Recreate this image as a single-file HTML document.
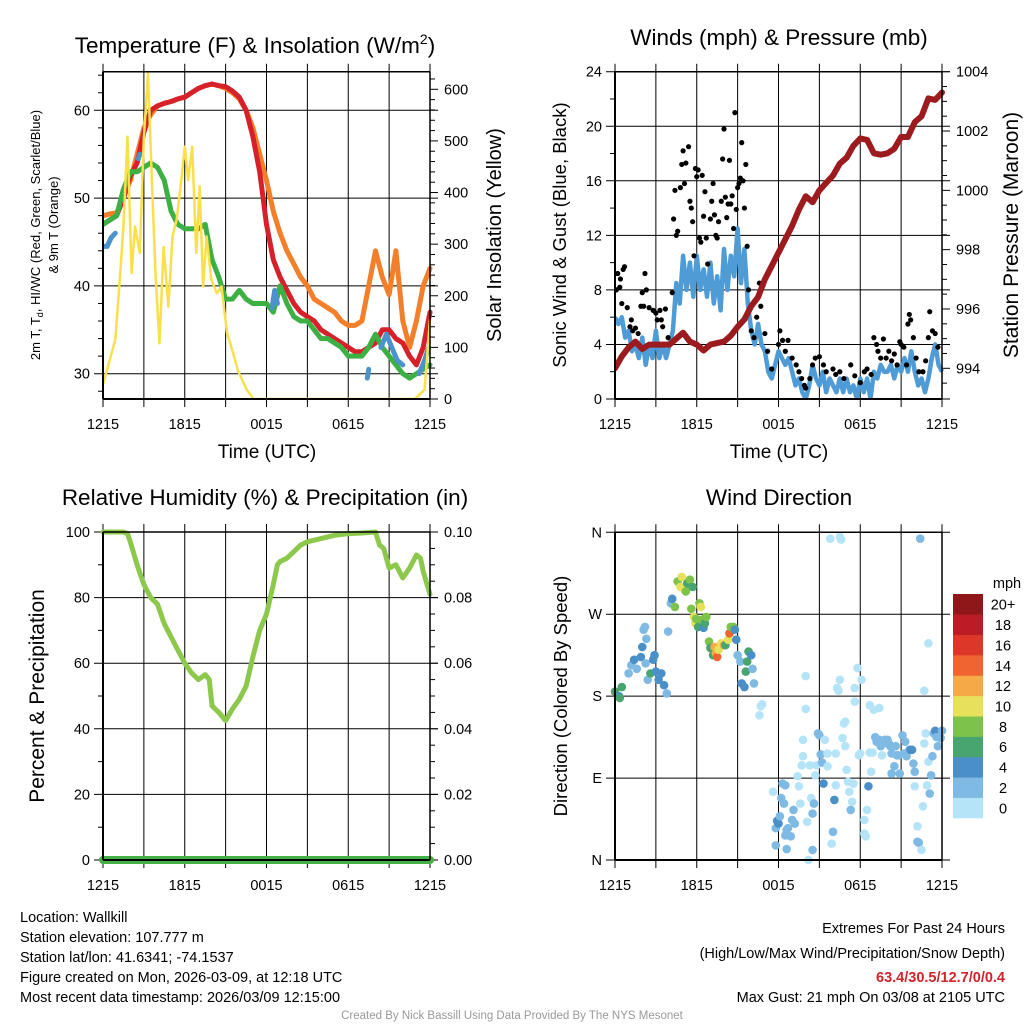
<!DOCTYPE html>
<html><head><meta charset="utf-8">
<style>
html,body{margin:0;padding:0;background:#fff;}
svg{display:block;font-family:"Liberation Sans",sans-serif;}
</style></head>
<body>
<svg id="fig" width="1024" height="1024" viewBox="0 0 1024 1024" xmlns="http://www.w3.org/2000/svg">
<rect width="1024" height="1024" fill="#fff"/>
<g id="g1"></g>
<g id="g2"></g>
<g id="g3"></g>
<g id="g4"></g>
<g font-size="14.5" fill="#000">
<text x="20" y="922">Location: Wallkill</text>
<text x="20" y="942">Station elevation: 107.777 m</text>
<text x="20" y="962">Station lat/lon: 41.6341; -74.1537</text>
<text x="20" y="982">Figure created on Mon, 2026-03-09, at 12:18 UTC</text>
<text x="20" y="1002">Most recent data timestamp: 2026/03/09 12:15:00</text>
</g>
<g font-size="14.5" text-anchor="end">
<text x="1005" y="933">Extremes For Past 24 Hours</text>
<text x="1005" y="958">(High/Low/Max Wind/Precipitation/Snow Depth)</text>
<text x="1005" y="982" fill="#d3232a" font-weight="bold">63.4/30.5/12.7/0/0.4</text>
<text x="1005" y="1002">Max Gust: 21 mph On 03/08 at 2105 UTC</text>
</g>
<text x="512" y="1019" text-anchor="middle" font-size="11.5" fill="#999">Created By Nick Bassill Using Data Provided By The NYS Mesonet</text>
</svg>
<script>
// ---------- data ----------
const timeTicks = ["1215","1815","0015","0615","1215"];
// Temperature panel (hours since 1215 UTC)
const tHours = [0,0.5,1,1.5,2,2.5,3,3.5,4,4.5,5,5.5,6,6.5,7,7.5,8,8.5,9,9.5,10,10.5,11,11.5,12,12.5,13,13.5,14,14.5,15,15.5,16,16.5,17,17.5,18,18.5,19,19.5,20,20.5,21,21.5,22,22.5,23,23.5,24];
const temp2m = [47,47.5,48,50,52.5,54,57.5,60,60.5,60.8,61,61.3,61.5,62,62.5,62.8,63,62.8,62.7,62.2,61.5,60,57,53,47,43,41,39.5,38,37,36.5,36,35,34.5,34,33.5,33,32.5,32.5,33,33.5,35,35,34,33.5,32,31,33,37];
const temp9m = [48,48.2,48.3,50,52,55,58,59.5,60.5,60.8,61,61.3,61.5,62,62.5,62.8,63,62.8,62.5,62,61.3,60,58,55,52,48.5,46,44,42.5,41,40,38.5,38,37.5,37,36,35.5,35.5,36,40,44,41,39,44,36,33,36,40,42];
const dewpt = [47,47.5,48,51,53,53,53.5,54,53.5,52,48.5,47,46.5,46.5,46.5,47,43,41,38.5,38.5,39.5,38.5,38,38,38,37,40,38,36.5,36,36,35,34,34,33.5,33,32,32,32,33,34.5,33,32,31,30,29.5,30,30.5,31];
const hiwcHours = [0,0.3,0.6,0.9,null,2.6,2.7,null,12.4,12.6,12.8,null,19.4,19.5,null,20.4,20.8,21.2,21.6,22,null,23.2,23.6,23.9];
const hiwcVals  = [44.5,44.5,45.5,46,null,54.5,55,null,37.5,39.5,38,null,29.5,30.5,null,33,34.5,33,31.5,31,null,30,31.5,33];
const solarHours = [0,0.5,0.9,1.2,1.5,1.8,2.1,2.35,2.7,3.0,3.3,3.6,3.85,4.15,4.45,4.8,5.1,5.4,5.75,6.0,6.25,6.55,6.85,7.1,7.35,7.6,7.95,8.35,8.7,9.1,9.55,9.9,10.55,11.05,22.9,23.6,24];
const solarVals  = [28,76,115,218,334,508,244,334,283,508,631,412,244,108,295,179,315,347,424,489,424,489,283,412,218,315,231,205,218,128,89,55,18,0,0,18,154];
// Wind panel
const windHours = [0,0.25,0.5,0.75,1,1.25,1.5,1.75,2,2.25,2.5,2.75,3,3.25,3.5,3.75,4,4.25,4.5,4.75,5,5.25,5.5,5.75,6,6.25,6.5,6.75,7,7.25,7.5,7.75,8,8.25,8.5,8.75,9,9.25,9.5,9.75,10,10.25,10.5,10.75,11,11.25,11.5,11.75,12,12.25,12.5,12.75,13,13.25,13.5,13.75,14,14.25,14.5,14.75,15,15.25,15.5,15.75,16,16.25,16.5,16.75,17,17.25,17.5,17.75,18,18.25,18.5,18.75,19,19.25,19.5,19.75,20,20.25,20.5,20.75,21,21.25,21.5,21.75,22,22.25,22.5,22.75,23,23.25,23.5,23.75,24];
const windSpd = [6,5.5,6,4.5,5,3.5,4,3,4.5,2.5,4,3,5,3,4,3,4,5,8.5,7,10.5,8,10,7.5,10.5,8,9.5,7.5,10,7,9,6.5,11,8,10.5,9,12.5,8.5,11,7,5,4,5.5,4,3.5,2,1.5,2.5,3.5,3,2.5,3,2,1,1.5,0.5,0,1,2.5,1.5,1,2,0.5,1.5,1,0.5,1.5,0.5,1.5,0.5,1,0,1.5,0.5,1.5,0,2,1.5,2.5,2,2,2.5,1.5,2.5,2,3,2,3.5,2,1,1.5,0.5,1.5,3,4,2.5,2];
const pHours = [0,0.5,1,1.5,2,2.5,3,3.5,4,4.5,5,5.5,6,6.5,7,7.5,8,8.5,9,9.5,10,10.5,11,11.5,12,12.5,13,13.5,14,14.5,15,15.5,16,16.5,17,17.5,18,18.5,19,19.5,20,20.5,21,21.5,22,22.5,23,23.5,24];
const pressure = [994.0,994.4,994.7,994.9,994.65,994.8,994.8,994.8,994.8,995.0,995.2,994.9,994.8,994.6,994.8,994.85,994.9,995.1,995.4,995.65,996.1,996.4,997.0,997.45,997.9,998.35,998.8,999.35,999.8,999.6,1000.0,1000.25,1000.5,1000.9,1001.1,1001.5,1001.75,1001.7,1001.25,1001.2,1001.25,1001.4,1001.8,1001.8,1002.3,1002.5,1003.1,1003.05,1003.3];
const gustHours = [0,0.1,0.2,0.35,0.4,0.5,0.6,0.7,0.9,1.1,1.2,1.3,1.5,1.7,1.9,2.0,2.1,2.2,2.3,2.5,2.8,3.0,3.1,3.3,3.4,3.5,3.7,3.9,4.2,4.3,4.4,4.5,4.6,4.8,4.9,5.0,5.1,5.2,5.4,5.5,5.6,5.7,5.8,5.9,6.0,6.1,6.2,6.3,6.4,6.5,6.6,6.7,6.8,7.0,7.1,7.2,7.3,7.4,7.5,7.6,7.8,7.9,8.0,8.1,8.2,8.3,8.4,8.5,8.6,8.7,8.8,8.9,9.0,9.1,9.2,9.3,9.4,9.5,9.6,9.7,9.8,10.0,10.2,10.4,10.6,10.7,11.0,11.2,11.5,12.0,12.1,12.3,12.5,12.7,13.0,13.3,13.5,13.7,13.9,14.0,14.3,14.5,14.7,15.0,15.3,15.5,16.0,16.2,16.5,16.8,17.3,17.6,18.0,18.3,18.5,18.8,19.0,19.2,19.3,19.5,19.7,19.9,20.1,20.3,20.5,20.7,20.9,21.0,21.2,21.4,21.5,21.6,21.7,21.9,22.1,22.3,22.6,22.8,23.0,23.1,23.3,23.5,23.7];
const gustVals  = [9.2,8,9.2,8.2,8.8,7,9.5,9.7,6.7,5.3,5.8,5,5.2,4.8,6.8,7.8,6.8,9.2,8,6.7,6.5,6.3,5.8,6.5,5.8,5.3,6.6,4.5,7.8,13.2,15.3,12,12.3,15.5,17.2,18.2,15.8,17.3,18.5,14.5,14,13,10.5,16.9,16.3,16.8,11.8,11.5,16.4,13.4,15.2,11.8,9.9,13.2,14.5,15.8,13.5,12,11.8,13,14.5,17.6,19.8,14.8,13.3,14.3,17.5,14.3,14.9,12.5,21,13.9,15.5,15.8,16.2,18.8,16,14,17.2,11.2,8,5,4.5,6,8.5,6.8,4.8,3.5,2.2,4,5,4.3,3.5,4.3,3,2.5,2,1.5,1,0.8,1.5,2.5,3,3.1,2.5,2,2.2,1.8,2,1.5,2.5,1.7,1.2,2,2.2,1.8,4.5,4,3.5,3,4.4,3,3.5,2.8,3.3,2.5,4.2,4,3.8,2.5,5.5,6.2,5.8,4.5,3,2,2,2.8,4.5,6.4,5,4.8,3.8];
// RH panel
const rhHours = [0,0.5,1,1.5,1.8,2,2.5,3,3.5,4,4.5,5,5.5,6,6.5,7,7.5,7.8,8,8.5,9,9.5,10,10.5,11,11.5,12,12.5,12.8,13,13.5,14,14.5,15,16,17,18,19,20,20.3,20.6,21,21.5,22,22.5,23,23.3,23.5,24];
const rhVals  = [100,100,100,100,99.5,97,90,84,80,78,72,68,64,60,57,55,56.5,55,47,45,42.5,46,49,53,62,70,75,84,90,91,92,94,96,97,98,99,99.5,99.7,100,96,95,89,90,86,89,93,92,88,81];
const precipHours = [0,24];
const precipVals = [0,0];
// Wind direction panel
const dirHours = [0,0.3,0.5,0.35,1,1.2,1.4,1.6,1.9,2.0,2.1,2.2,2.3,2.25,2.4,2.6,2.8,2.9,3.0,3.2,3.4,3.6,3.8,3.9,4.1,4.2,4.4,4.6,4.8,4.9,5.1,5.2,5.3,5.5,5.7,5.6,5.8,5.9,5.95,6.1,6.2,6.3,6.4,6.5,6.6,6.7,6.9,7.0,7.2,7.3,7.4,7.5,7.6,7.8,8.0,8.1,8.3,8.4,8.5,8.7,8.8,8.9,9.0,9.2,9.3,9.5,9.6,9.7,9.8,10.0,10.1,10.2,10.6,10.7,10.8,11.6,11.8,11.8,11.9,12.0,12.1,12.2,12.3,12.4,12.5,12.5,12.6,12.7,12.9,12.6,13.0,13.1,13.2,13.4,13.5,13.6,13.7,13.8,13.8,14.0,14.0,14.1,14.2,14.3,14.4,14.5,14.5,14.6,14.7,14.8,14.9,15.0,15.1,15.2,15.3,15.4,15.6,15.6,15.8,15.9,16.0,16.1,16.2,16.2,16.3,16.4,16.5,16.5,16.6,16.7,16.8,16.9,16.9,17.0,17.1,17.2,17.3,17.4,17.5,17.6,17.6,17.8,17.9,18.0,18.1,18.3,18.3,18.4,18.5,18.6,18.7,18.7,18.8,18.9,19.0,19.1,19.2,19.4,19.4,19.5,19.6,19.7,19.8,20.0,20.1,20.2,20.3,20.3,20.5,20.6,20.7,20.8,20.9,21.1,21.2,21.3,21.4,21.6,21.7,21.8,21.9,22.0,22.0,22.2,22.2,22.3,22.4,22.5,22.6,22.7,22.7,22.8,22.9,23.0,23.0,23.1,23.2,23.3,23.4,23.5,23.6,23.7,23.9,24.0];
const dirDeg = [185,180,190,178,205,214,220,210,223,234,253,256,243,216,198,205,220,225,207,198,205,192,183,251,282,287,278,306,300,311,297,295,304,308,300,276,267,260,265,256,282,278,264,255,260,267,240,233,225,234,227,223,231,238,236,236,242,249,256,256,253,242,225,218,194,190,207,218,229,225,210,194,159,169,171,75,35,16,43,40,48,68,84,62,82,27,33,35,26,12,44,55,40,92,81,62,104,114,132,166,202,42,0,104,68,11,51,62,93,104,139,137,116,107,84,132,117,103,353,18,31,66,82,117,189,186,198,355,352,134,150,152,125,99,86,75,55,64,84,174,189,211,115,117,198,44,29,26,55,81,118,170,97,118,165,135,130,132,167,125,115,128,132,132,128,125,95,117,103,125,115,115,95,137,117,130,114,121,121,121,106,97,81,37,20,19,353,11,59,128,186,139,82,238,108,73,93,114,139,142,135,125,134,142];
const dirSpd = [6,4,6,6,3,3,4,3,4,5,3,3,3,3,3,6,5,5,4,5,5,4,3,3,3,5,8,8,10,10,10,8,6,8,6,8,10,10,8,6,8,10,8,4,6,8,8,6,6,12,12,14,10,10,12,6,10,14,8,8,4,4,3,3,4,4,6,6,6,4,3,3,1,1,1,1,3,3,4,4,3,3,3,3,3,3,3,3,3,3,3,3,3,1,1,1,1,1,1,1,1,1,1,1,1,3,3,3,1,1,3,3,3,3,4,1,1,1,1,1,3,4,1,1,1,1,1,1,1,1,1,1,1,1,1,1,3,1,1,1,1,1,1,1,1,1,1,1,1,4,1,1,1,1,1,2,2,2,1,2,1,2,2,2,2,2,3,3,3,3,2,2,2,2,2,3,2,3,4,4,3,3,1,1,3,3,3,1,1,1,1,1,1,1,1,3,3,3,2,4,3,3,3,2];
const speedBinLabels = ["0","2","4","6","8","10","12","14","16","18","20+"];
const speedBinColors = ["#b5e3f8","#7fbae4","#4a8fc7","#48a56f","#7dc24b","#e6e05a","#f6a947","#ef6430","#dc3729","#bb1c25","#8f1719"];

// ---------- helpers ----------
const NS="http://www.w3.org/2000/svg";
function mk(parent,tag,attrs){const e=document.createElementNS(NS,tag);for(const k in attrs)e.setAttribute(k,attrs[k]);parent.appendChild(e);return e;}
function txt(parent,s,attrs){const e=mk(parent,"text",attrs);e.textContent=s;return e;}
function lin(d0,d1,p0,p1){return v=>p0+(v-d0)/(d1-d0)*(p1-p0);}
function pathFrom(xs,ys,fx,fy){let d="",pen=false;for(let i=0;i<xs.length;i++){if(xs[i]===null||ys[i]===null){pen=false;continue;}d+=(pen?"L":"M")+fx(xs[i]).toFixed(1)+","+fy(ys[i]).toFixed(1);pen=true;}return d;}

function frame(g,L,R,T,B,fx){
  for(let h=0;h<=24;h+=3){
    const l=mk(g,"line",{x1:fx(h),x2:fx(h),y1:T-8,y2:B+8,stroke:"#000","stroke-width":1});
    
    
  }
  timeTicks.forEach((s,i)=>{
    const t=txt(g,s,{x:fx(i*6),y:B+30,"font-size":14.5,"text-anchor":"middle"});
    
    
  });
}
function hgrid(g,L,R,y,label){
  const l=mk(g,"line",{x1:L-9,x2:R+8,y1:y,y2:y,stroke:"#000","stroke-width":1});
  
  
  if(label!==null){const t=txt(g,label,{x:L-13,y:y+5,"font-size":14.5,"text-anchor":"end"});
    
    }
}
function rtick(g,R,y,label,major){
  const l=mk(g,"line",{x1:R,x2:R+(major?8:5),y1:y,y2:y,stroke:"#000","stroke-width":1});
  
  
  if(label!==null){const t=txt(g,label,{x:R+14,y:y+5,"font-size":14.5});
    
    }
}
function box(g,L,R,T,B){
  mk(g,"line",{x1:L,x2:R,y1:T,y2:T,stroke:"#000","stroke-width":1.5});
  mk(g,"line",{x1:L,x2:R,y1:B,y2:B,stroke:"#000","stroke-width":2});
  mk(g,"line",{x1:L,x2:L,y1:T,y2:B,stroke:"#000","stroke-width":2});
  mk(g,"line",{x1:R,x2:R,y1:T,y2:B,stroke:"#000","stroke-width":1.5});
}
function title(g,s,x,y,size,rot){
  const a={x:x,y:y,"font-size":size,"text-anchor":"middle"};
  if(rot)a.transform="rotate(-90 "+x+" "+y+")";
  return txt(g,s,a);
}

// ---------- Panel 1: temperature ----------
(function(){
  const g=document.getElementById("g1");
  const L=103,R=430,T=71.7,B=399;
  const fx=lin(0,24,L,R), fy=lin(30,60,373.7,110.3), fs=lin(0,600,B,89.3);
  const tt=title(g,"Temperature (F) & Insolation (W/m",255,53,22.5,false);
  const sup=mk(tt,"tspan",{"font-size":14,dy:-9});sup.textContent="2";
  const cl=mk(tt,"tspan",{dy:9});cl.textContent=")";
  
  
  frame(g,L,R,T,B,fx);
  [30,40,50,60].forEach(v=>hgrid(g,L,R,fy(v),String(v)));
  for(let w=0;w<=620;w+=20){rtick(g,R,fs(w),w%100===0?String(w):null,w%100===0);}
  for(let v=28;v<=64;v+=2){if(v%10)mk(g,"line",{x1:L-5,x2:L,y1:fy(v),y2:fy(v),stroke:"#000"});}
  const clip=mk(g,"clipPath",{id:"c1"});mk(clip,"rect",{x:L,y:T-2,width:R-L+4,height:B-T+2});
  const pg=mk(g,"g",{"clip-path":"url(#c1)"});
  const p9=mk(pg,"path",{d:pathFrom(tHours,temp9m,fx,fy),fill:"none",stroke:"#f47f2a","stroke-width":5,"stroke-linejoin":"round","stroke-linecap":"round"});
  
  
  const p2=mk(pg,"path",{d:pathFrom(tHours,temp2m,fx,fy),fill:"none",stroke:"#d7212a","stroke-width":5,"stroke-linejoin":"round","stroke-linecap":"round"});
  
  
  const pd=mk(pg,"path",{d:pathFrom(tHours,dewpt,fx,fy),fill:"none",stroke:"#3db044","stroke-width":5,"stroke-linejoin":"round","stroke-linecap":"round"});
  
  
  const ph=mk(pg,"path",{d:pathFrom(hiwcHours,hiwcVals,fx,fy),fill:"none",stroke:"#4b93cc","stroke-width":5,"stroke-linejoin":"round","stroke-linecap":"round"});
  
  
  const ps=mk(pg,"path",{d:pathFrom(solarHours,solarVals,fx,fs),fill:"none",stroke:"#f9e04b","stroke-width":2.5,"stroke-linejoin":"round"});
  
  
  box(g,L,R,T,B);
  const xt=title(g,"Time (UTC)",267,458,19);
  
  
  const y1=title(g,"2m T, T",40,235,13,true);
  const sb=mk(y1,"tspan",{"font-size":9,dy:3});sb.textContent="d";
  const r1=mk(y1,"tspan",{dy:-3});r1.textContent=", HI/WC (Red, Green, Scarlet/Blue)";
  
  
  const y2=title(g,"& 9m T (Orange)",58,225,13,true);
  
  
  const yr=title(g,"Solar Insolation (Yellow)",501,235,20,true);
  
  
})();

// ---------- Panel 2: wind & pressure ----------
(function(){
  const g=document.getElementById("g2");
  const L=615,R=942,T=71.7,B=399;
  const fx=lin(0,24,L,R), fy=lin(0,24,B,T), fp=lin(994,1004,368.3,71.7);
  const tt=title(g,"Winds (mph) & Pressure (mb)",779,45,22.5);
  
  
  frame(g,L,R,T,B,fx);
  [0,4,8,12,16,20,24].forEach(v=>hgrid(g,L,R,fy(v),String(v)));
  for(let v=2;v<24;v+=4)mk(g,"line",{x1:L-5,x2:L,y1:fy(v),y2:fy(v),stroke:"#000"});
  for(let p=993;p<=1004;p+=0.5){if(p>=993.05)rtick(g,R,fp(p),(p%2===0)?String(p):null,p%2===0);}
  const clip=mk(g,"clipPath",{id:"c2"});mk(clip,"rect",{x:L,y:T-4,width:R-L+6,height:B-T+4});
  const pg=mk(g,"g",{"clip-path":"url(#c2)"});
  const pw=mk(pg,"path",{d:pathFrom(windHours,windSpd,fx,fy),fill:"none",stroke:"#4f9bd6","stroke-width":4.5,"stroke-linejoin":"round"});
  
  
  gustHours.forEach((h,i)=>{
    const c=mk(pg,"circle",{cx:fx(h),cy:fy(gustVals[i]),r:2.6,fill:"#000"});
    
    
  });
  const pp=mk(pg,"path",{d:pathFrom(pHours,pressure,fx,fp),fill:"none",stroke:"#9b1b1e","stroke-width":6,"stroke-linejoin":"round","stroke-linecap":"round"});
  
  
  box(g,L,R,T,B);
  const xt=title(g,"Time (UTC)",779,458,19);
  
  
  const yl=title(g,"Sonic Wind & Gust (Blue, Black)",566,235,18.5,true);
  
  
  const yr=title(g,"Station Pressure (Maroon)",1018,235,21,true);
  
  
})();

// ---------- Panel 3: RH & precip ----------
(function(){
  const g=document.getElementById("g3");
  const L=103,R=430,T=532,B=860;
  const fx=lin(0,24,L,R), fy=lin(0,100,B,T), fr=lin(0,0.1,B,T);
  const tt=title(g,"Relative Humidity (%) & Precipitation (in)",265,505,22.5);
  
  
  frame(g,L,R,T,B,fx);
  [0,20,40,60,80,100].forEach(v=>hgrid(g,L,R,fy(v),String(v)));
  for(let v=10;v<100;v+=20)mk(g,"line",{x1:L-5,x2:L,y1:fy(v),y2:fy(v),stroke:"#000"});
  for(let k=0;k<=20;k++){const p=k*0.005;rtick(g,R,fr(p),k%4===0?p.toFixed(2):null,k%4===0);}
  const pr=mk(g,"path",{d:pathFrom(rhHours,rhVals,fx,fy),fill:"none",stroke:"#8cc84b","stroke-width":5,"stroke-linejoin":"round","stroke-linecap":"round"});
  
  
  const pp=mk(g,"path",{d:pathFrom(precipHours,precipVals,fx,fr),fill:"none",stroke:"#45b045","stroke-width":8,"stroke-linecap":"round"});
  
  
  box(g,L,R,T,B);
  const yl=title(g,"Percent & Precipitation",44,696,21,true);
  
  
})();

// ---------- Panel 4: wind direction ----------
(function(){
  const g=document.getElementById("g4");
  const L=615,R=942,T=532.3,B=860;
  const fx=lin(0,24,L,R), fy=lin(0,360,B,T);
  const tt=title(g,"Wind Direction",779,505,22.5);
  
  
  frame(g,L,R,T,B,fx);
  ["N","E","S","W","N"].forEach((s,i)=>hgrid(g,L,R,fy(i*90),s));
  dirHours.forEach((h,i)=>{
    const bin=Math.min(10,Math.floor(dirSpd[i]/2));
    const c=mk(g,"circle",{cx:fx(h),cy:fy(dirDeg[i]),r:4.3,fill:speedBinColors[bin]});
    
    
  });
  box(g,L,R,T,B);
  const yl=title(g,"Direction (Colored By Speed)",567,696,18.5,true);
  
  
  const cb=mk(g,"g",{});
  
  
  const top=594,bot=818,h=(bot-top)/speedBinColors.length;
  speedBinColors.forEach((col,i)=>{
    const y=bot-(i+1)*h;
    const r=mk(cb,"rect",{x:953,y:y,width:30,height:h+0.3,fill:col});
    
    
    const t=txt(cb,speedBinLabels[i],{x:1003,y:y+h/2+5.5,"font-size":14.5,"text-anchor":"middle"});
    
    
  });
  const u=txt(cb,"mph",{x:1007,y:588,"font-size":14.5,"text-anchor":"middle"});
  
  
})();
</script>
</body></html>
